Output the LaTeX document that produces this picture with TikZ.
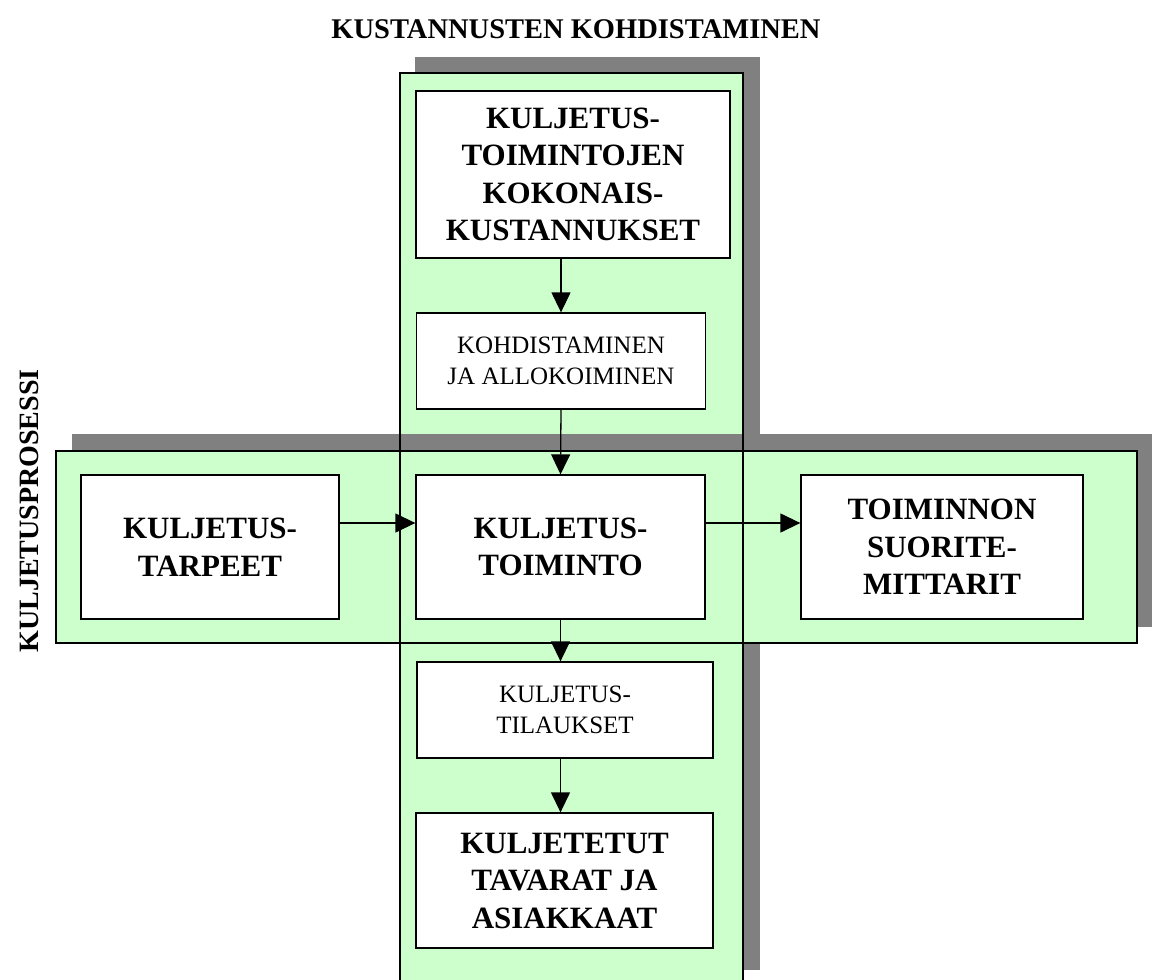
\documentclass[tikz,border=0pt]{standalone}
\usepackage{fontspec}
\setmainfont{Liberation Serif}
\usetikzlibrary{arrows.meta}
\definecolor{bandgreen}{HTML}{CCFFCC}
\definecolor{shadowgray}{HTML}{808080}

\begin{document}
\begin{tikzpicture}[x=1pt, y=-1pt, >={Triangle[length=20pt, width=19pt]},
    band/.style={fill=bandgreen},
    backshadow/.style={fill=shadowgray},
    box/.style={draw, line width=1.3pt, fill=white, align=center, inner sep=0pt},
    big/.style={font=\fontsize{31}{37.5}\selectfont\bfseries},
    small/.style={font=\fontsize{25}{31}\selectfont},
    conn/.style={->, line width=1.3pt}]
    \useasboundingbox (0,0) rectangle (1152,980);
    % green bands with their shadows
    \fill[backshadow] (415,57) rectangle (760,970);
    \fill[band] (400,73) rectangle (743,986);
    \fill[backshadow] (72,434) rectangle (1153,627);
    \draw[band, line width=1.5pt] (56,451) rectangle (1137,643);
    \draw[line width=1.5pt] (400,73) rectangle (743,986);
    % headings
    \node[font=\fontsize{28.5}{34}\selectfont\bfseries, anchor=base] (title) at (576,38) {KUSTANNUSTEN KOHDISTAMINEN};
    \node[font=\fontsize{28}{34}\selectfont\bfseries, rotate=90] (side) at (29,511) {KULJETUSPROSESSI};
    % boxes
    \node[box, big, minimum width=314pt, minimum height=167pt] (kok) at (573,174.5) {KULJETUS-\\TOIMINTOJEN\\KOKONAIS-\\KUSTANNUKSET};
    \node[box, small, minimum width=289pt, minimum height=96pt] (koh) at (561,361) {KOHDISTAMINEN\\JA ALLOKOIMINEN};
    \node[box, big, minimum width=258pt, minimum height=144pt] (tarp) at (210,547) {KULJETUS-\\TARPEET};
    \node[box, big, minimum width=289pt, minimum height=144pt] (toim) at (560.5,547) {KULJETUS-\\TOIMINTO};
    \node[box, big, minimum width=282pt, minimum height=144pt] (mitt) at (942,547) {TOIMINNON\\SUORITE-\\MITTARIT};
    \node[box, small, minimum width=296pt, minimum height=96pt] (tila) at (565,710) {KULJETUS-\\TILAUKSET};
    \node[box, big, minimum width=297pt, minimum height=135pt] (tava) at (564.5,880.5) {KULJETETUT\\TAVARAT JA\\ASIAKKAAT};
    % arrows
    \draw[conn] (koh.north |- kok.south) -- (koh.north);
    \draw[conn] (koh.south) -- (toim.north);
    \draw[conn] ([yshift=24pt]tarp.east) -- ([yshift=24pt]toim.west);
    \draw[conn] ([yshift=24pt]toim.east) -- ([yshift=24pt]mitt.west);
    \draw[conn] (toim.south) -- (toim.south |- tila.north);
    \draw[conn] (toim.south |- tila.south) -- (toim.south |- tava.north);
\end{tikzpicture}
\end{document}
